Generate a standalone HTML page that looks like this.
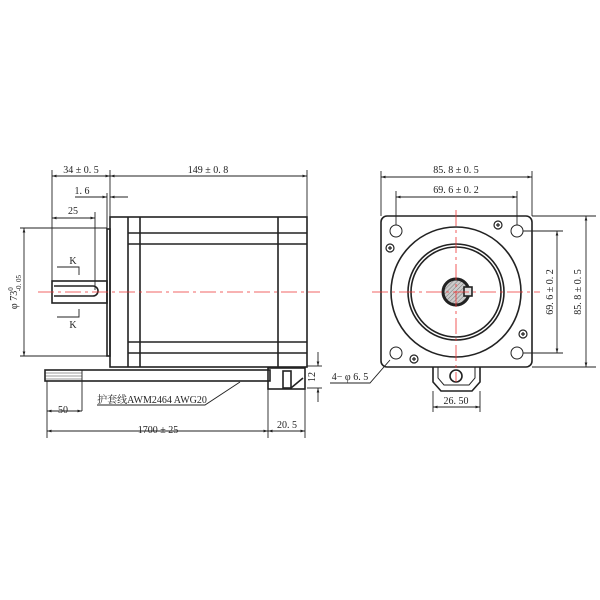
<!DOCTYPE html>
<html><head><style>body{margin:0;background:#fff}svg{display:block}text{font-family:"Liberation Serif","Noto Serif CJK SC",serif;fill:#222}</style></head><body>
<svg width="600" height="600" viewBox="0 0 600 600" xmlns="http://www.w3.org/2000/svg">
<defs>
<marker id="a" viewBox="0 0 10 10" refX="10" refY="5" markerWidth="7" markerHeight="5" orient="auto-start-reverse"><path d="M0,2 L10,5 L0,8z" fill="#222"/></marker>
<pattern id="h" width="3" height="3" patternUnits="userSpaceOnUse" patternTransform="rotate(45)"><rect width="3" height="3" fill="#ccc"/><line x1="0" y1="0" x2="0" y2="3" stroke="#777" stroke-width="1"/></pattern>
</defs>
<g stroke="#222" fill="none" stroke-width="0.9">
<line x1="52" y1="170" x2="52" y2="285"/><line x1="110" y1="170" x2="110" y2="217"/><line x1="307" y1="170" x2="307" y2="217"/>
<line x1="107" y1="193" x2="107" y2="229"/><line x1="95" y1="212" x2="95" y2="290"/>
<line x1="52" y1="176" x2="110" y2="176" marker-start="url(#a)" marker-end="url(#a)"/>
<line x1="110" y1="176" x2="307" y2="176" marker-start="url(#a)" marker-end="url(#a)"/>
<line x1="75" y1="197" x2="107" y2="197" marker-end="url(#a)"/><line x1="110" y1="197" x2="128" y2="197" marker-start="url(#a)"/>
<line x1="52" y1="218" x2="95" y2="218" marker-start="url(#a)" marker-end="url(#a)"/>
<line x1="20" y1="228" x2="107" y2="228"/><line x1="20" y1="356" x2="107" y2="356"/>
<line x1="24" y1="228" x2="24" y2="356" marker-start="url(#a)" marker-end="url(#a)"/>
<polyline points="57,267 79,267 79,275"/><polyline points="57,317 79,317 79,309"/>
<g stroke-width="1.6">
<rect x="110" y="217" width="197" height="150"/>
<rect x="107" y="229" width="3" height="127"/>
<line x1="128" y1="217" x2="128" y2="367"/><line x1="140" y1="217" x2="140" y2="367"/><line x1="278" y1="217" x2="278" y2="367"/>
<line x1="128" y1="233" x2="307" y2="233"/><line x1="128" y1="244" x2="307" y2="244"/>
<line x1="128" y1="342" x2="307" y2="342"/><line x1="128" y1="353" x2="307" y2="353"/>
<rect x="52" y="281" width="55" height="22"/>
<path d="M54,286 L93,286 A5,5 0 0 1 93,296 L54,296"/>
<rect x="45" y="370" width="225" height="11"/>
<rect x="268" y="368" width="37" height="21"/>
<rect x="283" y="371" width="8" height="17"/><line x1="291" y1="388" x2="303" y2="378"/>
</g>
<g stroke="#333" stroke-width="0.6"><line x1="45" y1="373" x2="82" y2="373"/><line x1="45" y1="376" x2="82" y2="376"/><line x1="45" y1="379" x2="82" y2="379"/></g>
<line x1="82" y1="370" x2="82" y2="411"/>
<polyline points="97,405 205,405 240,382"/>
<line x1="47" y1="381" x2="47" y2="438"/><line x1="268" y1="389" x2="268" y2="438"/><line x1="305" y1="389" x2="305" y2="438"/>
<line x1="47" y1="411" x2="82" y2="411" marker-start="url(#a)" marker-end="url(#a)"/>
<line x1="47" y1="431" x2="268" y2="431" marker-start="url(#a)" marker-end="url(#a)"/>
<line x1="268" y1="431" x2="305" y2="431" marker-start="url(#a)" marker-end="url(#a)"/>
<line x1="307" y1="366" x2="322" y2="366"/><line x1="307" y1="388" x2="322" y2="388"/>
<line x1="318" y1="352" x2="318" y2="366" marker-end="url(#a)"/><line x1="318" y1="388" x2="318" y2="402" marker-start="url(#a)"/>
<g stroke-width="1.6">
<rect x="381" y="216" width="151" height="151" rx="6"/>
<circle cx="456" cy="292" r="65"/><circle cx="456" cy="292" r="48"/><circle cx="456" cy="292" r="45"/>
<circle cx="456" cy="292" r="13" fill="url(#h)" stroke-width="3"/>
<rect x="464" y="287" width="8" height="9" fill="#ddd"/>
<path d="M433,367 L433,382 L441,391 L472,391 L480,382 L480,367"/>
<path d="M438,367 L438,378 L444,385 L469,385 L475,378 L475,367" stroke-width="1"/>
<circle cx="456" cy="376" r="6"/>
</g>
<g stroke-width="1"><circle cx="396" cy="231" r="6"/><circle cx="517" cy="231" r="6"/><circle cx="396" cy="353" r="6"/><circle cx="517" cy="353" r="6"/></g>
<g stroke-width="1.2">
<circle cx="498" cy="225" r="4"/><path d="M496,225h4M498,223v4"/>
<circle cx="390" cy="248" r="4"/><path d="M388,248h4M390,246v4"/>
<circle cx="523" cy="334" r="4"/><path d="M521,334h4M523,332v4"/>
<circle cx="414" cy="359" r="4"/><path d="M412,359h4M414,357v4"/></g>
<line x1="381" y1="171" x2="381" y2="216"/><line x1="532" y1="171" x2="532" y2="216"/>
<line x1="396" y1="191" x2="396" y2="225"/><line x1="517" y1="191" x2="517" y2="225"/>
<line x1="381" y1="177" x2="532" y2="177" marker-start="url(#a)" marker-end="url(#a)"/>
<line x1="396" y1="197" x2="517" y2="197" marker-start="url(#a)" marker-end="url(#a)"/>
<line x1="523" y1="231" x2="563" y2="231"/><line x1="523" y1="353" x2="563" y2="353"/>
<line x1="532" y1="216" x2="596" y2="216"/><line x1="532" y1="367" x2="596" y2="367"/>
<line x1="557" y1="231" x2="557" y2="353" marker-start="url(#a)" marker-end="url(#a)"/>
<line x1="586" y1="216" x2="586" y2="367" marker-start="url(#a)" marker-end="url(#a)"/>
<polyline points="330,383 370,383 390,360"/>
<line x1="433" y1="391" x2="433" y2="412"/><line x1="480" y1="391" x2="480" y2="412"/>
<line x1="433" y1="407" x2="480" y2="407" marker-start="url(#a)" marker-end="url(#a)"/>
</g>
<g stroke="#e33" stroke-width="0.8" stroke-dasharray="16,4,3,4">
<line x1="38" y1="292" x2="320" y2="292"/>
<line x1="372" y1="292" x2="540" y2="292"/><line x1="456" y1="210" x2="456" y2="382"/>
</g>
<g font-size="10" text-anchor="middle">
<text x="81" y="173">34 ± 0. 5</text><text x="208" y="173">149 ± 0. 8</text>
<text x="82" y="194">1. 6</text><text x="73" y="214">25</text>
<text x="73" y="264">K</text><text x="73" y="328">K</text>
<text x="63" y="413">50</text><text x="158" y="433">1700 ± 25</text><text x="287" y="428">20. 5</text>
<text x="152" y="403">护套线AWM2464  AWG20</text>
<text transform="translate(315,377) rotate(-90)">12</text>
<text transform="translate(17,292) rotate(-90)">φ 73<tspan font-size="7" dy="-4">0</tspan><tspan font-size="7" dx="-4" dy="8">-0. 05</tspan></text>
<text x="456" y="173">85. 8 ± 0. 5</text><text x="456" y="193">69. 6 ± 0. 2</text>
<text transform="translate(553,292) rotate(-90)">69. 6 ± 0. 2</text>
<text transform="translate(581,292) rotate(-90)">85. 8 ± 0. 5</text>
<text x="350" y="380">4− φ 6. 5</text><text x="456" y="404">26. 50</text>
</g>
</svg>
</body></html>
